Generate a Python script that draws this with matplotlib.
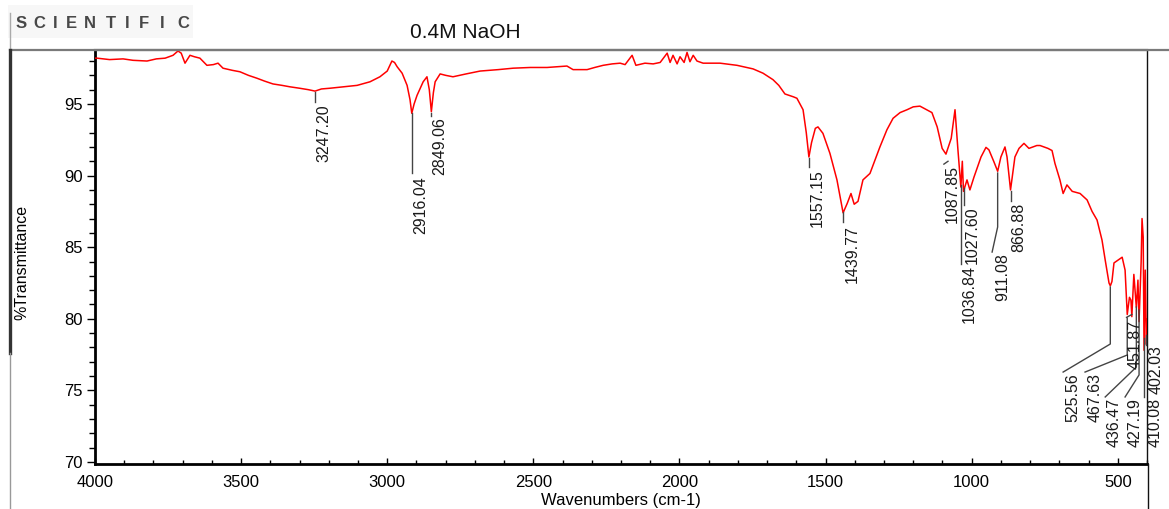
import matplotlib
matplotlib.use('Agg')
import matplotlib.pyplot as plt
from matplotlib.lines import Line2D
from matplotlib.patches import Rectangle
from matplotlib.ticker import MultipleLocator

plt.rcParams['font.family'] = ['Liberation Sans', 'DejaVu Sans']

# ---------------- data ----------------
wavenumber = [4000, 3993, 3950, 3904, 3870, 3822, 3790, 3760, 3733, 3716, 3705, 3692, 3675,
              3660, 3641, 3617, 3595, 3579, 3562, 3530, 3504, 3475, 3446, 3420, 3391, 3360,
              3333, 3300, 3270, 3247, 3225, 3196, 3150, 3103, 3059, 3025, 3000, 2984, 2975,
              2966, 2949, 2932, 2922, 2916, 2908, 2898, 2877, 2864, 2856, 2849, 2842, 2836,
              2819, 2800, 2775, 2730, 2682, 2620, 2569, 2510, 2453, 2420, 2385, 2364, 2316,
              2290, 2261, 2230, 2203, 2186, 2162, 2149, 2118, 2090, 2066, 2042, 2032, 2022,
              2008, 1998, 1984, 1974, 1964, 1953, 1940, 1919, 1861, 1803, 1748, 1714, 1680,
              1660, 1639, 1610, 1598, 1577, 1566, 1557, 1548, 1535, 1526, 1509, 1485, 1461,
              1440, 1426, 1413, 1402, 1389, 1372, 1348, 1314, 1290, 1269, 1245, 1221, 1200,
              1177, 1136, 1118,
              1101, 1088, 1070, 1057, 1047, 1037, 1032, 1028, 1016, 1006, 992, 968, 951, 941,
              924, 911, 900, 886, 879, 867, 852, 838, 821, 804, 777, 766, 739, 725, 715, 698,
              687, 674, 656, 629, 605, 588, 571, 554, 543, 530, 525.5, 520, 513, 499, 485,
              475, 467.6, 460, 455, 451.9, 445, 436.5, 431, 427.2, 420, 417, 413, 410.1, 406,
              402, 400]
transmittance = [98.2, 98.2, 98.1, 98.15, 98.05, 98.0, 98.15, 98.2, 98.4, 98.7, 98.55, 97.85, 98.4,
                 98.3, 98.2, 97.7, 97.75, 97.85, 97.5, 97.35, 97.25, 97.0, 96.8, 96.6, 96.4, 96.3,
                 96.2, 96.1, 96.0, 95.9, 96.05, 96.1, 96.2, 96.3, 96.55, 96.9, 97.3, 98.0, 97.9,
                 97.6, 97.15, 96.3, 95.3, 94.35, 95.0, 95.6, 96.55, 96.9, 96.0, 94.46, 95.8, 96.55,
                 97.1, 97.0, 96.9, 97.1, 97.3, 97.4, 97.5, 97.55, 97.55, 97.6, 97.65, 97.4, 97.4,
                 97.55, 97.7, 97.8, 97.85, 97.75, 98.4, 97.7, 97.85, 97.8, 97.9, 98.55, 97.9, 98.4,
                 97.8, 98.3, 97.9, 98.6, 97.95, 98.4, 98.0, 97.85, 97.85, 97.7, 97.45, 97.15, 96.7,
                 96.3, 95.7, 95.5, 95.4, 94.6, 93.0, 91.3, 92.3, 93.3, 93.4, 92.95, 91.55, 89.7,
                 87.4, 88.05, 88.75, 88.0, 88.2, 89.7, 90.15, 92.0, 93.2, 94.0, 94.4, 94.6, 94.8,
                 94.85, 94.4, 93.4,
                 91.9, 91.5, 92.6, 94.6, 91.8, 89.2, 91.0, 88.9, 89.7, 89.0, 89.9, 91.3, 91.97, 91.8,
                 90.97, 90.3, 91.3, 92.0, 91.3, 89.0, 91.3, 91.9, 92.25, 91.9, 92.1, 92.1, 91.9, 91.75, 90.85, 89.7,
                 88.75, 89.35, 88.9, 88.75, 88.3, 87.5, 86.9, 85.5, 84.1, 82.5, 82.3, 82.6, 83.9, 84.1, 84.3,
                 83.4, 80.3, 81.5, 81.3, 80.15, 83.1, 80.8, 82.7, 79.8, 84.0, 87.0, 85.7, 77.8, 83.4,
                 78.2, 80.0]

peak_labels = ['3247.20', '2916.04', '2849.06', '1557.15', '1439.77', '1087.85', '1036.84',
               '1027.60', '911.08', '866.88', '525.56', '467.63', '451.87', '436.47',
               '427.19', '410.08', '402.03']
peak_wavenumbers = [3247.20, 2916.04, 2849.06, 1557.15, 1439.77, 1087.85, 1036.84,
                    1027.60, 911.08, 866.88, 525.56, 467.63, 451.87, 436.47,
                    427.19, 410.08, 402.03]

x_ticks = [4000, 3500, 3000, 2500, 2000, 1500, 1000, 500]
y_ticks = [70, 75, 80, 85, 90, 95]

# leader line layout (wavenumber, %T) for each peak label, and text anchors
leader_paths = [
    [(3247.20, 95.84), (3247.20, 95.14)],
    [(2916.04, 94.37), (2916.04, 90.18)],
    [(2849.06, 94.40), (2849.06, 94.15)],
    [(1557.15, 91.23), (1557.15, 90.60)],
    [(1439.77, 87.46), (1439.77, 86.76)],
    [(1081.0, 91.00), (1095.0, 90.80)],
    [(1036.84, 89.34), (1036.84, 83.83)],
    [(1027.60, 89.13), (1027.60, 87.95)],
    [(911.08, 90.18), (911.08, 86.41), (930.0, 84.66)],
    [(866.88, 88.92), (866.88, 88.23)],
    [(525.56, 82.22), (525.56, 78.24), (687.0, 76.28)],
    [(467.63, 80.06), (467.63, 77.47), (612.0, 76.28)],
    [(451.87, 80.30), (470.0, 80.10)],
    [(436.47, 80.82), (436.47, 76.63), (543.0, 74.54)],
    [(427.19, 80.61), (427.19, 76.08), (475.0, 74.54)],
    [(410.08, 78.66), (410.08, 74.54)],
    [(402.03, 78.90), (402.03, 78.20)],
]
text_anchors = [(3243, 94.95), (2912, 89.95), (2845, 94.10), (1553, 90.45), (1436, 86.55),
                (1091, 90.74), (1033, 83.76), (1023.6, 87.88), (920, 84.60), (863, 88.10),
                (678, 76.20), (603, 76.20), (467, 79.92), (537, 74.47), (466, 74.47),
                (397, 74.47), (393, 78.17)]

# ---------------- figure ----------------
W, H = 1169, 509
fig = plt.figure(figsize=(W / 100, H / 100), dpi=100)


def fx(px):
    return px / W


def fy(py):
    return 1 - py / H


# header box and text
fig.patches.append(Rectangle((fx(8), fy(38)), fx(185), 33 / H, transform=fig.transFigure,
                             facecolor='#f7f7f7', edgecolor='none', zorder=0))
for ch, px in zip('SCIENTIFIC', [21, 39, 55, 71, 90, 111, 127, 144, 162, 183]):
    fig.text(fx(px), fy(23), ch, ha='center', va='center', fontsize=12,
             fontweight='bold', color='#484848')

fig.text(fx(465), fy(32), '0.4M NaOH', ha='center', va='center', fontsize=15, color='#111111')

# frame lines outside the axes
fig.add_artist(Line2D([fx(10), fx(1169)], [fy(50), fy(50)], color='#7a7a7a', lw=1.6))
fig.add_artist(Line2D([fx(10), fx(10)], [fy(13), fy(50)], color='#aaaaaa', lw=1.0))
fig.add_artist(Line2D([fx(10), fx(10)], [fy(50), fy(353)], color='#333333', lw=2.4))
fig.add_artist(Line2D([fx(10), fx(10)], [fy(353), fy(509)], color='#999999', lw=1.0))
fig.add_artist(Line2D([fx(1147.5), fx(1147.5)], [fy(464), fy(509)], color='#111111', lw=1.0))

ax = fig.add_axes([fx(95), fy(464), (1147 - 95) / W, (464 - 50) / H])
ax.plot(wavenumber, transmittance, color='#ff0000', lw=1.1, zorder=3)
ax.set_xlim(4000, 400)
ax.set_ylim(69.86, 98.77)

for s in ['left', 'bottom']:
    ax.spines[s].set_linewidth(2.0)
    ax.spines[s].set_color('black')
ax.spines['top'].set_color('#7a7a7a')
ax.spines['top'].set_linewidth(1.6)
ax.spines['right'].set_linewidth(1.0)
ax.spines['right'].set_color('#111111')

ax.set_xticks(x_ticks)
ax.set_xticklabels([str(t) for t in x_ticks])
ax.set_yticks(y_ticks)
ax.set_yticklabels([str(t) for t in y_ticks])
ax.xaxis.set_minor_locator(MultipleLocator(100))
ax.yaxis.set_minor_locator(MultipleLocator(1))
ax.tick_params(axis='x', which='major', direction='in', length=4, width=1, labelsize=12, pad=8,
               top=False)
ax.tick_params(axis='x', which='minor', direction='in', length=3, width=1, top=False)
ax.tick_params(axis='y', which='major', direction='out', length=6, width=1, labelsize=12, pad=3,
               right=False)
ax.tick_params(axis='y', which='minor', direction='out', length=4, width=1, right=False)

fig.text(fx(621), fy(501), 'Wavenumbers (cm-1)', ha='center', va='center', fontsize=12)
fig.text(fx(22), fy(262), '%Transmittance', ha='center', va='center', rotation=90, fontsize=11.5)

for lab, path, anc in zip(peak_labels, leader_paths, text_anchors):
    xs = [p[0] for p in path]
    ys = [p[1] for p in path]
    ax.plot(xs, ys, color='#444444', lw=1.0, clip_on=False, zorder=4)
    ax.text(anc[0], anc[1], lab, rotation=90, ha='left', va='top', fontsize=11.5,
            color='#1a1a1a', clip_on=False, zorder=5)

fig.savefig('out.png', dpi=100)
